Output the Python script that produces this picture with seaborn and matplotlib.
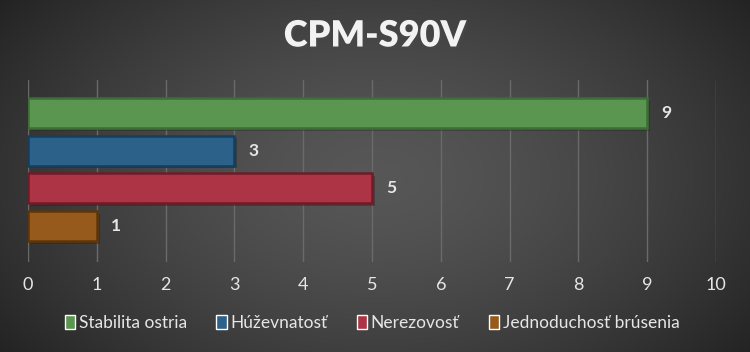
import numpy as np
import pandas as pd
import matplotlib
matplotlib.use("Agg")
import matplotlib.pyplot as plt
import matplotlib.patheffects as pe
import seaborn as sns

title = "CPM-S90V"
categories = ["Stabilita ostria", "Húževnatosť", "Nerezovosť", "Jednoduchosť brúsenia"]
values = [9, 3, 5, 1]
colors = ["#5a9650", "#2c6189", "#ad3445", "#965a1c"]
edge_colors = ["#3d6e35", "#163d5c", "#6e1c28", "#5e350a"]
xticks = [0, 1, 2, 3, 4, 5, 6, 7, 8, 9, 10]

df = pd.DataFrame({"category": categories, "value": values})

sns.set_theme(style="white")
plt.rcParams["font.family"] = ["Lato", "DejaVu Sans"]

fig = plt.figure(figsize=(7.5, 3.52), dpi=100)

# radial gradient background
bg = fig.add_axes([0, 0, 1, 1], zorder=-10)
yy, xx = np.mgrid[0:352, 0:750]
r = np.sqrt(((xx - 375) / 420.0) ** 2 + ((yy - 176) / 260.0) ** 2)
shade = np.clip(0.34 - 0.17 * r ** 1.5, 0.13, 0.34)
img = np.dstack([shade, shade, shade])
bg.imshow(img, aspect="auto", extent=[0, 1, 0, 1])
bg.axis("off")

ax = fig.add_axes([28 / 750, 1 - 262 / 352, (716 - 28) / 750, (262 - 80) / 352])
ax.set_facecolor("none")

sns.barplot(data=df, x="value", y="category", hue="category",
            palette=colors, dodge=False, width=0.8, ax=ax, legend=True,
            saturation=1)

for patch, ec in zip(ax.patches[:4], edge_colors):
    patch.set_edgecolor(ec)
    patch.set_linewidth(1.8)
    patch.set_zorder(3)
    patch.set_path_effects([pe.SimplePatchShadow(offset=(2, -2), alpha=0.35), pe.Normal()])

ax.set_xlim(0, 10)
ax.set_ylim(3.95, -0.87)
ax.set_xticks(xticks)
ax.set_xticklabels([str(t) for t in xticks], color="#e6e6e6", fontsize=13)
ax.tick_params(axis="x", length=0, pad=11)
ax.set_yticks([])
ax.set_xlabel("")
ax.set_ylabel("")
for s in ax.spines.values():
    s.set_visible(False)
ax.grid(axis="x", color="#6a6a6a", linewidth=1.0, zorder=0)
ax.set_axisbelow(True)

for i, v in enumerate(values):
    ax.text(v + 0.2, i, str(v), color="#e6e6e6", fontsize=12.5, fontweight="bold",
            va="center", ha="left")

fig.text(0.5, 1 - 36 / 352, title, color="#f2f2f2", fontsize=26, fontweight="heavy",
         ha="center", va="center",
         path_effects=[pe.withSimplePatchShadow(offset=(1.5, -1.5), alpha=0.6)])

sns.move_legend(ax, loc="center", bbox_to_anchor=(0.5, (262 - 323) / 182),
                ncol=4, frameon=False, title=None, fontsize=12.5,
                handlelength=0.6, handleheight=0.9, handletextpad=0.2,
                columnspacing=1.7)
for t in ax.get_legend().get_texts():
    t.set_color("#e6e6e6")

fig.savefig("out.png", dpi=100)
